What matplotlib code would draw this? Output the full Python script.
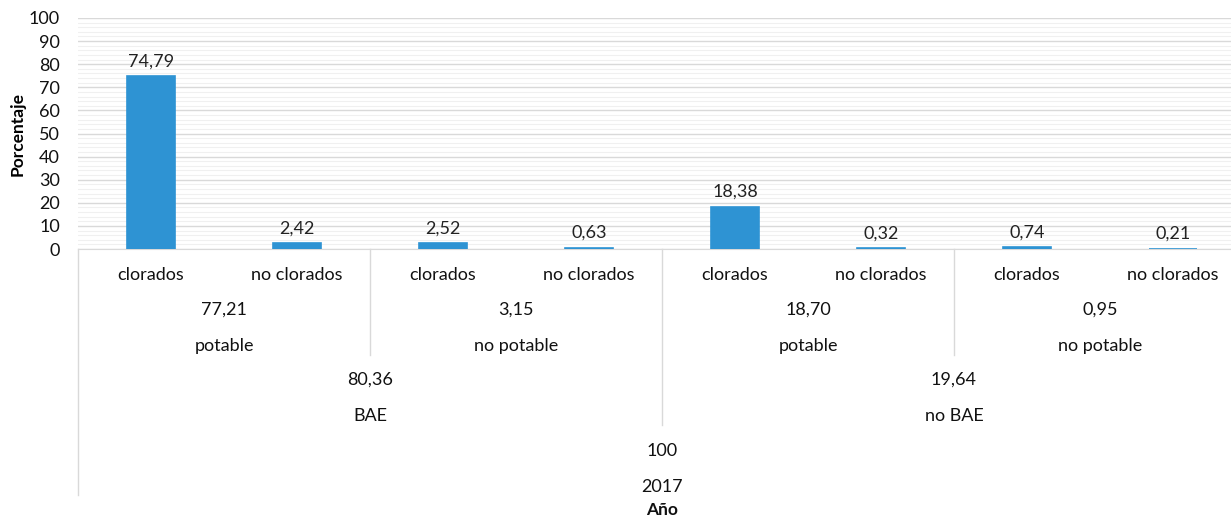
import numpy as np
import matplotlib
matplotlib.use('Agg')
import matplotlib.pyplot as plt
from matplotlib.ticker import MultipleLocator

plt.rcParams['font.family'] = ['Lato', 'DejaVu Sans']

# Datos
subcategorias = ['clorados', 'no clorados', 'clorados', 'no clorados',
                 'clorados', 'no clorados', 'clorados', 'no clorados']
valores = [74.79, 2.42, 2.52, 0.63, 18.38, 0.32, 0.74, 0.21]
grupo_agua = ['potable', 'no potable', 'potable', 'no potable']
total_agua = [77.21, 3.15, 18.70, 0.95]
grupo_bae = ['BAE', 'no BAE']
total_bae = [80.36, 19.64]
anio = ['2017']
total_anio = ['100']

W, H = 1231, 518
fig = plt.figure(figsize=(W / 100, H / 100), dpi=100)

# Área del gráfico en píxeles (el borde derecho queda fuera de la imagen)
left, right, top, bottom = 78, 1246, 18, 249
ax = fig.add_axes([left / W, 1 - bottom / H, (right - left) / W, (bottom - top) / H])

x = np.arange(len(valores))
ax.bar(x, valores, width=0.33, color='#2e93d3', edgecolor='#2e93d3', lw=1.2, zorder=3)
for xi, v in zip(x, valores):
    ax.annotate(f'{v:.2f}'.replace('.', ','), (xi, v), xytext=(0, 5),
                textcoords='offset points', ha='center', va='bottom',
                fontsize=13, color='#222222')

ax.set_xlim(-0.5, len(valores) - 0.5)
ax.set_ylim(0, 100)
ax.yaxis.set_major_locator(MultipleLocator(10))
ax.yaxis.set_minor_locator(MultipleLocator(2))
ax.grid(which='major', axis='y', color='#d9d9d9', lw=1, zorder=0)
ax.grid(which='minor', axis='y', color='#f0f0f0', lw=0.8, zorder=0)
ax.set_xticks([])
ax.tick_params(axis='y', which='both', length=0, labelsize=13, pad=13, labelcolor='#111111')
for s in ['top', 'right', 'left']:
    ax.spines[s].set_visible(False)
ax.spines['bottom'].set_color('#d9d9d9')

ax.set_ylabel('Porcentaje', fontsize=12.5, fontweight='bold', labelpad=2)

# Ejes de categorías multinivel (posición vertical en píxeles de la figura)
tr = ax.get_xaxis_transform()
h_ax = bottom - top


def py(p):
    return (bottom - p) / h_ax


def vline(xd, y_end):
    ax.plot([xd, xd], [0, py(y_end)], transform=tr, color='#d9d9d9',
            lw=1, clip_on=False)


txt = dict(transform=tr, ha='center', va='center', fontsize=13, color='#111111')

for xi, lab in zip(x, subcategorias):
    ax.text(xi, py(275), lab, **txt)

for i, (lab, tot) in enumerate(zip(grupo_agua, total_agua)):
    xc = 2 * i + 0.5
    ax.text(xc, py(310), f'{tot:.2f}'.replace('.', ','), **txt)
    ax.text(xc, py(346), lab, **txt)

for i, (lab, tot) in enumerate(zip(grupo_bae, total_bae)):
    xc = 4 * i + 1.5
    ax.text(xc, py(380), f'{tot:.2f}'.replace('.', ','), **txt)
    ax.text(xc, py(416), lab, **txt)

ax.text(3.5, py(451), total_anio[0], **txt)
ax.text(3.5, py(487), anio[0], **txt)
ax.text(3.5, py(510), 'Año', transform=tr, ha='center', va='center',
        fontsize=12.5, fontweight='bold', color='#111111')

vline(-0.5, 495)
vline(1.5, 355)
vline(5.5, 355)
vline(3.5, 425)

fig.savefig('out.png', dpi=100)
